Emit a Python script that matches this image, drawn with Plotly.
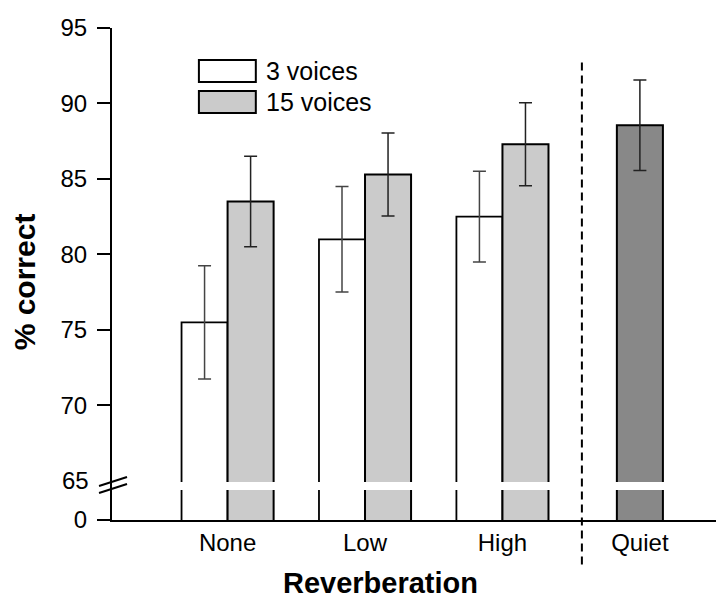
import plotly.graph_objects as go

categories = ["None", "Low", "High", "Quiet"]
reverb = ["None", "Low", "High"]
voices3 = [75.5, 81.0, 82.5]
voices3_err = [3.75, 3.5, 3.0]
voices15 = [83.5, 85.3, 87.3]
voices15_err = [3.0, 2.75, 2.75]
quiet = [88.55]
quiet_err = [3.0]
ytick_vals = [70, 75, 80, 85, 90, 95]

FONT = "Liberation Sans, Arial, sans-serif"
BW = 0.335
YMIN = 62.4

fig = go.Figure()
fig.add_trace(go.Bar(
    x=reverb, y=voices3, name="3 voices", width=BW, offset=-BW,
    marker=dict(color="white", line=dict(color="black", width=1.8)),
    error_y=dict(type="data", array=voices3_err, color="#444", thickness=1.5, width=6.5),
    showlegend=False))
fig.add_trace(go.Bar(
    x=reverb, y=voices15, name="15 voices", width=BW, offset=0,
    marker=dict(color="#cbcbcb", line=dict(color="black", width=2)),
    error_y=dict(type="data", array=voices15_err, color="#222", thickness=1.5, width=6.5),
    showlegend=False))
fig.add_trace(go.Bar(
    x=["Quiet"], y=quiet, name="Quiet", width=BW, offset=-BW / 2,
    marker=dict(color="#888888", line=dict(color="black", width=2)),
    error_y=dict(type="data", array=quiet_err, color="#222", thickness=1.5, width=6.5),
    showlegend=False))

shapes = []
# white break band across bars
shapes.append(dict(type="rect", xref="paper", yref="paper", x0=0.006, x1=1.0, y0=0.061, y1=0.0772,
                   fillcolor="white", line=dict(width=0), layer="above"))
# dashed separator
shapes.append(dict(type="line", xref="x", yref="paper", x0=2.578, x1=2.578, y0=0.93, y1=-0.0956,
                   line=dict(color="black", width=2, dash="8px,5px"), layer="above"))
# axis-break slashes
shapes.append(dict(type="line", xref="paper", yref="paper", x0=-0.0212, x1=0.0245, y0=0.0691, y1=0.0874,
                   line=dict(color="black", width=2), layer="above"))
shapes.append(dict(type="line", xref="paper", yref="paper", x0=-0.0212, x1=0.0245, y0=0.0549, y1=0.0732,
                   line=dict(color="black", width=2), layer="above"))
# legend boxes
shapes.append(dict(type="rect", xref="paper", yref="paper", x0=0.142, x1=0.235, y0=0.890, y1=0.935,
                   fillcolor="white", line=dict(color="black", width=2), layer="above"))
shapes.append(dict(type="rect", xref="paper", yref="paper", x0=0.142, x1=0.235, y0=0.827, y1=0.872,
                   fillcolor="#cbcbcb", line=dict(color="black", width=2), layer="above"))

annotations = [
    dict(text="3 voices", xref="paper", yref="paper", x=0.248, y=0.9126, xanchor="left", yanchor="middle",
         showarrow=False, font=dict(family=FONT, size=25, color="black")),
    dict(text="15 voices", xref="paper", yref="paper", x=0.248, y=0.8496, xanchor="left", yanchor="middle",
         showarrow=False, font=dict(family=FONT, size=25, color="black")),
    dict(text="65", xref="paper", yref="y", x=-0.034, y=65, xanchor="right", yanchor="middle",
         showarrow=False, font=dict(family=FONT, size=24, color="black")),
    dict(text="<b>Reverberation</b>", xref="paper", yref="paper", x=0.438, y=-0.129, xanchor="center",
         yanchor="middle", showarrow=False, font=dict(family=FONT, size=29, color="black")),
    dict(text="<b>% correct</b>", xref="paper", yref="paper", x=-0.143, y=0.484, xanchor="center",
         yanchor="middle", textangle=-90, showarrow=False, font=dict(family=FONT, size=30, color="black")),
]

fig.update_layout(
    width=716, height=593,
    margin=dict(l=104, r=0, t=20, b=81),
    paper_bgcolor="white", plot_bgcolor="white",
    barmode="overlay",
    font=dict(family=FONT, size=24, color="black"),
    shapes=shapes, annotations=annotations,
    xaxis=dict(type="category", categoryorder="array", categoryarray=categories,
               range=[-0.841, 3.612], showline=True, linecolor="black", linewidth=2,
               ticks="", showgrid=False, zeroline=False,
               tickfont=dict(family=FONT, size=24, color="black")),
    yaxis=dict(range=[YMIN, 95], tickmode="array",
               tickvals=[YMIN] + ytick_vals, ticktext=["0"] + [str(v) for v in ytick_vals],
               showline=True, linecolor="black", linewidth=2, ticks="outside", ticklen=13,
               tickwidth=2, tickcolor="black", showgrid=False, zeroline=False,
               ticklabelstandoff=5, tickfont=dict(family=FONT, size=24, color="black")),
)

fig.write_html("out.html")
